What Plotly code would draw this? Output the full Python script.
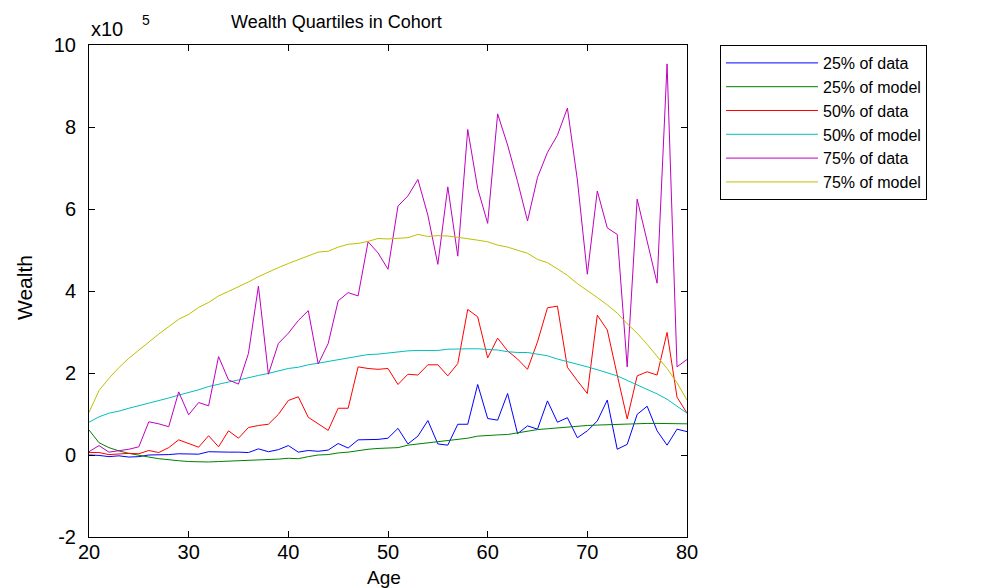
import plotly.graph_objects as go

ages = list(range(20, 81))

q25_data = [0.00, -0.01, -0.04, -0.02, -0.05, -0.04, 0.00, 0.00, 0.01, 0.03,
            0.03, 0.02, 0.08, 0.07, 0.07, 0.07, 0.06, 0.15, 0.08, 0.13,
            0.23, 0.07, 0.11, 0.09, 0.12, 0.28, 0.17, 0.37, 0.37, 0.38,
            0.41, 0.65, 0.27, 0.46, 0.84, 0.27, 0.24, 0.75, 0.75, 1.72,
            0.89, 0.85, 1.50, 0.52, 0.71, 0.63, 1.32, 0.80, 0.91, 0.42,
            0.59, 0.83, 1.34, 0.14, 0.26, 0.99, 1.19, 0.59, 0.24, 0.63, 0.57]

q25_model = [0.61, 0.30, 0.18, 0.10, 0.04, -0.01, -0.05, -0.09, -0.12, -0.14,
             -0.16, -0.17, -0.17, -0.16, -0.15, -0.15, -0.14, -0.13, -0.11, -0.10,
             -0.08, -0.09, -0.04, 0.00, 0.01, 0.05, 0.07, 0.11, 0.14, 0.16,
             0.17, 0.18, 0.24, 0.27, 0.29, 0.33, 0.35, 0.38, 0.41, 0.46,
             0.48, 0.49, 0.50, 0.54, 0.59, 0.62, 0.64, 0.66, 0.68, 0.71,
             0.72, 0.73, 0.74, 0.75, 0.75, 0.76, 0.77, 0.77, 0.77, 0.76, 0.76]

q50_data = [0.06, 0.06, 0.01, 0.03, 0.04, 0.03, 0.11, 0.06, 0.18, 0.37,
            0.28, 0.19, 0.47, 0.20, 0.59, 0.41, 0.67, 0.72, 0.75, 0.99,
            1.33, 1.42, 0.92, 0.76, 0.60, 1.14, 1.14, 2.15, 2.11, 2.09,
            2.11, 1.72, 1.97, 1.95, 2.20, 2.20, 1.93, 2.23, 3.55, 3.37,
            2.37, 2.85, 2.54, 2.34, 2.09, 2.76, 3.59, 3.63, 2.14, 1.81,
            1.50, 3.41, 3.05, 1.95, 0.88, 1.93, 2.03, 1.95, 2.99, 1.41, 1.02]

q50_model = [0.80, 0.93, 1.02, 1.07, 1.14, 1.20, 1.26, 1.33, 1.39, 1.46,
             1.52, 1.59, 1.67, 1.73, 1.78, 1.83, 1.89, 1.94, 1.99, 2.05,
             2.11, 2.14, 2.20, 2.24, 2.28, 2.33, 2.37, 2.41, 2.45, 2.46,
             2.49, 2.52, 2.54, 2.55, 2.55, 2.55, 2.58, 2.59, 2.59, 2.59,
             2.58, 2.56, 2.52, 2.50, 2.50, 2.46, 2.42, 2.34, 2.28, 2.22,
             2.15, 2.08, 2.01, 1.93, 1.82, 1.71, 1.60, 1.49, 1.36, 1.20, 1.02]

q75_data = [0.08, 0.23, 0.07, 0.10, 0.14, 0.20, 0.81, 0.76, 0.69, 1.54,
            0.98, 1.28, 1.20, 2.40, 1.83, 1.73, 2.48, 4.12, 1.97, 2.72,
            2.97, 3.28, 3.52, 2.22, 2.72, 3.76, 3.96, 3.88, 5.20, 4.93,
            4.53, 6.07, 6.32, 6.72, 5.85, 4.65, 6.54, 4.85, 7.94, 6.50,
            5.65, 8.32, 7.56, 6.67, 5.71, 6.77, 7.38, 7.80, 8.46, 6.71,
            4.41, 6.44, 5.54, 5.38, 2.15, 6.24, 5.24, 4.19, 9.54, 2.15, 2.33]

q75_model = [1.04, 1.57, 1.87, 2.13, 2.36, 2.56, 2.76, 2.95, 3.13, 3.31,
             3.43, 3.60, 3.72, 3.88, 3.99, 4.10, 4.22, 4.35, 4.47, 4.57,
             4.67, 4.76, 4.85, 4.95, 4.97, 5.07, 5.14, 5.16, 5.21, 5.28,
             5.27, 5.29, 5.30, 5.38, 5.33, 5.35, 5.34, 5.31, 5.28, 5.24,
             5.20, 5.12, 5.07, 5.00, 4.92, 4.77, 4.69, 4.54, 4.38, 4.18,
             4.02, 3.84, 3.66, 3.46, 3.20, 2.97, 2.70, 2.41, 2.11, 1.76, 1.34]

series_names = ["25% of data", "25% of model", "50% of data",
                "50% of model", "75% of data", "75% of model"]
series_values = [q25_data, q25_model, q50_data, q50_model, q75_data, q75_model]
series_colors = ["#0000ff", "#008000", "#ff0000", "#00bfbf", "#bf00bf", "#bfbf00"]

x_ticks = [20, 30, 40, 50, 60, 70, 80]
y_ticks = [-2, 0, 2, 4, 6, 8, 10]
y_tick_labels = ["-2", "0", "2", "4", "6", "8", "10"]

FONT = "Liberation Sans, Arial, Helvetica"

# plot area in pixels
L, R, T, B = 89, 687, 45, 537
W, H = 987, 588
PW, PH = R - L, B - T


def px(x):
    return (x - L) / PW


def py(y):
    return (B - y) / PH


fig = go.Figure()
for name, vals, col in zip(series_names, series_values, series_colors):
    fig.add_trace(go.Scatter(x=ages, y=vals, mode="lines", name=name,
                             line=dict(color=col, width=1)))

axis_common = dict(showgrid=False, zeroline=False, showline=True,
                   linecolor="black", linewidth=1, mirror="ticks",
                   ticks="inside", ticklen=6, tickcolor="black",
                   automargin=False,
                   tickfont=dict(family=FONT, size=20, color="black"))

fig.update_xaxes(range=[20, 80], tickvals=x_ticks, ticklabelstandoff=-3,
                 **axis_common)
fig.update_yaxes(range=[-2, 10], tickvals=y_ticks, ticktext=y_tick_labels,
                 ticklabelstandoff=8,
                 **axis_common)

# axis titles
fig.add_annotation(xref="paper", yref="paper", x=px(384), y=py(577),
                   text="Age", showarrow=False,
                   font=dict(family=FONT, size=19, color="black"),
                   xanchor="center", yanchor="middle")
fig.add_annotation(xref="paper", yref="paper", x=px(24), y=py(288),
                   text="Wealth", showarrow=False, textangle=-90,
                   font=dict(family=FONT, size=21, color="black"),
                   xanchor="center", yanchor="middle")

# title
fig.add_annotation(xref="paper", yref="paper", x=px(336), y=py(22),
                   text="Wealth Quartiles in Cohort", showarrow=False,
                   font=dict(family=FONT, size=18, color="black"),
                   xanchor="center", yanchor="middle")
# exponent label
fig.add_annotation(xref="paper", yref="paper", x=px(89), y=py(29),
                   text="x10", showarrow=False,
                   font=dict(family=FONT, size=20, color="black"),
                   xanchor="left", yanchor="middle")
fig.add_annotation(xref="paper", yref="paper", x=px(140), y=py(20),
                   text="5", showarrow=False,
                   font=dict(family=FONT, size=14, color="black"),
                   xanchor="left", yanchor="middle")

fig.update_layout(
    width=W, height=H,
    margin=dict(l=L, r=W - R, t=T, b=H - B, autoexpand=False),
    paper_bgcolor="white", plot_bgcolor="white",
    showlegend=True,
    legend=dict(x=px(720), y=1.0, xanchor="left", yanchor="top",
                bordercolor="black", borderwidth=1, bgcolor="white",
                font=dict(family=FONT, size=16, color="black"),
                itemwidth=92, tracegroupgap=0),
)

fig.write_html("out.html",
               config={"displayModeBar": False},
               post_script="document.body.style.margin='0';"
                           "document.body.style.overflow='hidden';")
